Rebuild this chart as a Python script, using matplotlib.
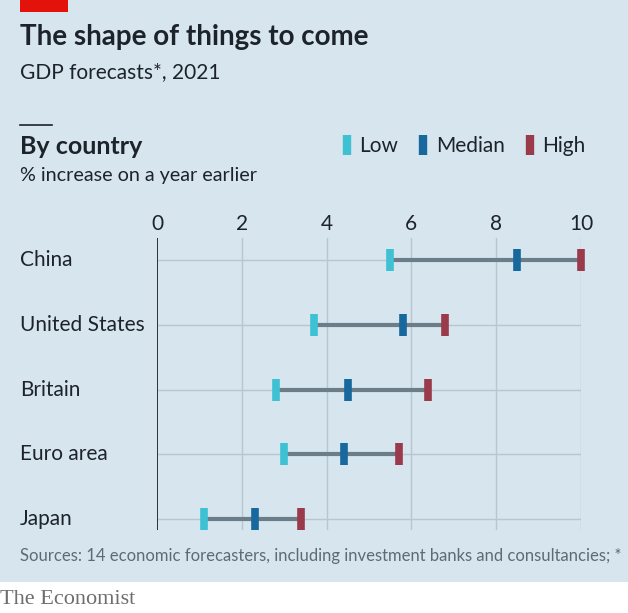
import matplotlib.pyplot as plt
from matplotlib.lines import Line2D
from matplotlib.patches import Rectangle
from matplotlib.transforms import blended_transform_factory

# Daten
countries = ["China", "United States", "Britain", "Euro area", "Japan"]
low = [5.5, 3.7, 2.8, 3.0, 1.1]
median = [8.5, 5.8, 4.5, 4.4, 2.3]
high = [10.0, 6.8, 6.4, 5.7, 3.4]
xticks = [0, 2, 4, 6, 8, 10]

bg = "#d7e5ee"
c_low = "#3ec1d3"
c_med = "#17689c"
c_high = "#9b3a4b"
c_line = "#6b7d88"
c_grid = "#b8c6d0"
txt = "#1d232b"

plt.rcParams["font.family"] = ["Lato", "DejaVu Sans"]

W, H = 628, 613
fig = plt.figure(figsize=(W / 100, H / 100), dpi=100)
fig.patch.set_facecolor("white")

# heller Hintergrund + rotes Kästchen oben
fig.patches.append(Rectangle((0, 31 / H), 1, 1, transform=fig.transFigure,
                             facecolor=bg, edgecolor="none", zorder=-10))
fig.patches.append(Rectangle((20 / W, 1 - 12 / H), 48 / W, 12 / H,
                             transform=fig.transFigure, facecolor="#e3120b",
                             edgecolor="none"))

fig.text(20 / W, 1 - 37 / H, "The shape of things to come", fontsize=20,
         fontweight="bold", color=txt, va="center")
fig.text(20 / W, 1 - 72 / H, "GDP forecasts*, 2021", fontsize=15,
         color=txt, va="center")
fig.add_artist(Line2D([20 / W, 52 / W], [1 - 125 / H, 1 - 125 / H],
                      transform=fig.transFigure, color=txt, lw=1.2))
fig.text(20 / W, 1 - 146 / H, "By country", fontsize=18, fontweight="bold",
         color=txt, va="center")
fig.text(20 / W, 1 - 176 / H, "% increase on a year earlier", fontsize=14.2,
         color=txt, va="center")

# Legende
handles = [Line2D([], [], ls="none", marker="|", ms=15, mew=6, color=c)
           for c in (c_low, c_med, c_high)]
fig.legend(handles, ["Low", "Median", "High"], ncol=3, frameon=False,
           loc="center right", bbox_to_anchor=(604 / W, 1 - 146 / H),
           fontsize=15, handlelength=0.6, handletextpad=0.3,
           columnspacing=0.9, labelcolor=txt)

# Achse
ax = fig.add_axes([157 / W, 1 - 530 / H, (581 - 157) / W, (530 - 238) / H])
ax.patch.set_alpha(0)
ax.set_xlim(0, 10)
ax.set_ylim(len(countries) - 1 + 0.17, -0.34)
for s in ax.spines.values():
    s.set_visible(False)
ax.axvline(0, color=txt, lw=1.3, zorder=3)
for x in xticks[1:]:
    ax.axvline(x, color=c_grid, lw=1, zorder=0)

ys = list(range(len(countries)))
ax.hlines(ys, 0, 10, color=c_grid, lw=1, zorder=0)
ax.hlines(ys, low, high, color=c_line, lw=3, zorder=1)
for vals, c in ((low, c_low), (median, c_med), (high, c_high)):
    ax.plot(vals, ys, ls="none", marker="|", ms=16, mew=5.5, color=c,
            zorder=2, clip_on=False)

ax.xaxis.tick_top()
ax.set_xticks(xticks)
ax.set_xticklabels([str(x) for x in xticks], fontsize=15, color=txt)
ax.tick_params(axis="x", length=0, pad=3)
ax.set_yticks([])

# Ländernamen: x in Figurkoordinaten, y in Daten
tr = blended_transform_factory(fig.transFigure, ax.transData)
for y, name in zip(ys, countries):
    ax.text(20 / W, y, name, transform=tr, fontsize=15, color=txt,
            va="center", clip_on=False)

fig.text(20 / W, 1 - 556 / H,
         "Sources: 14 economic forecasters, including investment banks and consultancies; *",
         fontsize=12, color="#5d6b75", va="center")
fig.text(0, 1 - 600 / H, "The Economist", fontsize=16,
         family=["Liberation Serif"], color="#6e6e6e", va="center")

fig.savefig("out.png", dpi=100, facecolor=fig.get_facecolor())
